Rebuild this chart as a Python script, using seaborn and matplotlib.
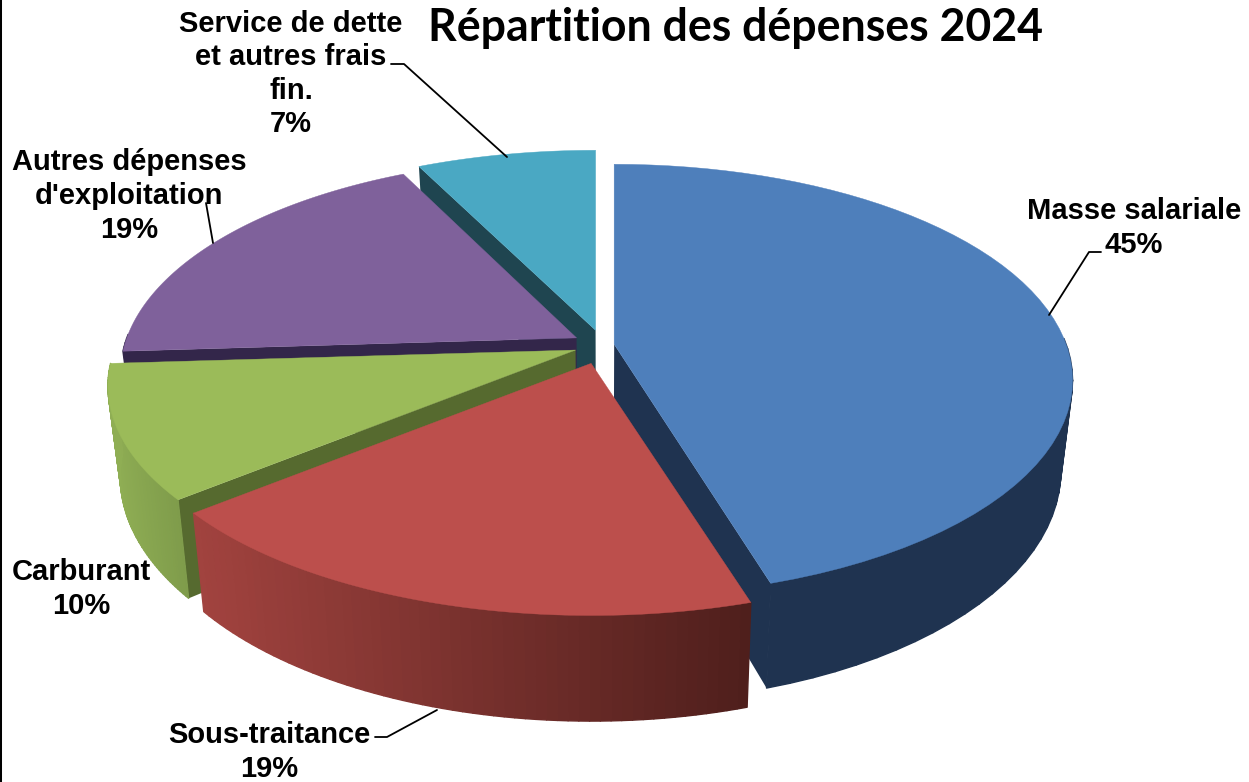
# -*- coding: utf-8 -*-
import numpy as np
import seaborn as sns
import matplotlib.pyplot as plt

sns.set_theme(style="white")
plt.rcParams['font.family'] = ['Liberation Sans', 'DejaVu Sans']

# =============================================================================
# Data
# =============================================================================

categories = ["Masse salariale", "Sous-traitance", "Carburant",
              "Autres dépenses\nd'exploitation",
              "Service de dette\net autres frais\nfin."]
shares = [45.3, 18.7, 10.0, 18.7, 7.3]
title = "Répartition des dépenses 2024"

# =============================================================================
# Style and layout
# =============================================================================

top_colors = sns.color_palette(["#4e7fbb", "#bc4f4c", "#9bbb59", "#7f619b", "#4aa8c3"])
wall_colors = ["#1f3350", "#54201d", "#566a2f", "#33264a", "#1f4550"]
# side colour at left and right end of each slice
side_left = ["#1f3350", "#a2433f", "#8fae54", "#33264a", "#1f4550"]
side_right = ["#1f3350", "#4f1f1c", "#7f9c4b", "#33264a", "#1f4550"]
explode = [0.025, 0.09, 0.065, 0.068, 0.073]
x_scale = [1.0, 1.02, 1.02, 0.995, 1.015]
draw_order = [4, 3, 2, 0, 1]

CX, CY = 603, 345
RX, RY = 452, 210
PERSP = 0.167
DEPTH = 88
SHRINK = 0.975


def project(u, v):
    k = 1 / (1 - PERSP * v)
    return RX * u * k, RY * v * k, k


def lower(x, y, k):
    return CX + (x - CX) * SHRINK, y + DEPTH * k


# =============================================================================
# Plot
# =============================================================================

fig, ax = plt.subplots(figsize=(12.49, 7.82), dpi=100)
fig.subplots_adjust(left=0, right=1, top=1, bottom=0)
ax.set_xlim(0, 1249)
ax.set_ylim(782, 0)
ax.set_xticks([])
ax.set_yticks([])

edges = np.cumsum([0] + shares) / sum(shares) * 2 * np.pi

for i in draw_order:
    a0, a1 = edges[i], edges[i + 1]
    mid = (a0 + a1) / 2
    ox, oy, ok = project(explode[i] * np.sin(mid), -explode[i] * np.cos(mid))
    ax0, ay0 = CX + ox, CY + oy

    theta = np.linspace(a0, a1, 60)
    dx, dy, k = project(np.sin(theta), -np.cos(theta))
    x = ax0 + dx * x_scale[i]
    y = ay0 + dy
    xb, yb = lower(x, y, k)
    apex_bx, apex_by = lower(ax0, ay0, 1.0)

    # cut faces, only the ones turned towards the viewer
    if np.sin(a0) < -1e-6:
        ax.fill([ax0, x[0], xb[0], apex_bx], [ay0, y[0], yb[0], apex_by],
                color=wall_colors[i], lw=0, zorder=1)
    if np.sin(a1) > 1e-6:
        ax.fill([ax0, x[-1], xb[-1], apex_bx], [ay0, y[-1], yb[-1], apex_by],
                color=wall_colors[i], lw=0, zorder=1)

    # outer side, shaded from left to right (front half only)
    c_left = np.array(sns.color_palette([side_left[i]])[0])
    c_right = np.array(sns.color_palette([side_right[i]])[0])
    span = max(x.max() - x.min(), 1)
    for j in range(len(theta) - 1):
        if -np.cos(theta[j]) < 0 and -np.cos(theta[j + 1]) < 0:
            continue
        t = (x[j] - x.min()) / span
        shade = tuple(c_left * (1 - t) + c_right * t)
        ax.fill([x[j], x[j + 1], xb[j + 1], xb[j]], [y[j], y[j + 1], yb[j + 1], yb[j]],
                facecolor=shade, edgecolor=shade, lw=1.0, joinstyle='round')

    # top face
    ax.fill(np.r_[ax0, x], np.r_[ay0, y], color=top_colors[i], lw=0.3)

# Labels
label_pos = [(1134, 228), (269, 752), (81, 589), (129, 196), (291, 74)]
for name, share, (lx, ly) in zip(categories, shares, label_pos):
    ax.text(lx, ly, f"{name}\n{share:.0f}%", ha='center', va='center', fontsize=21,
            fontweight='bold', color='black', linespacing=1.25, zorder=10)

# Leader lines
leaders = [([1101, 1089, 1049], [252, 252, 315]),
           ([375, 387, 437], [737, 737, 710]),
           ([206, 213], [203, 243]),
           ([391, 404, 507], [64, 64, 157])]
for lx, ly in leaders:
    ax.plot(lx, ly, color='black', lw=1.3, zorder=9)

ax.text(736, 28, title, ha='center', va='center', fontsize=32.1, fontweight='bold',
        family=['Lato', 'DejaVu Sans'], color='black', zorder=10)

sns.despine(ax=ax, top=True, right=True, bottom=True, left=False)
ax.spines['left'].set_color('black')
ax.spines['left'].set_linewidth(2.9)

fig.savefig('out.png', dpi=100)
